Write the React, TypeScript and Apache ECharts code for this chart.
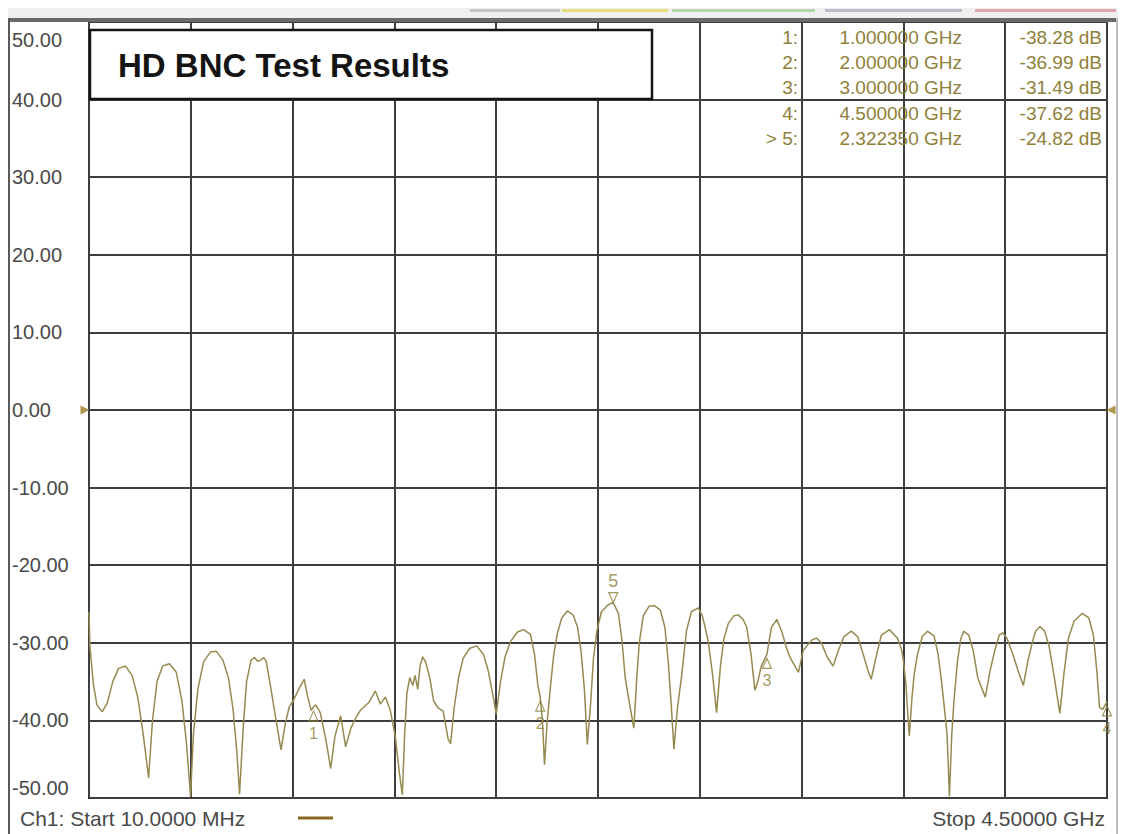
import React, { useEffect, useRef } from "react";
import * as echarts from "echarts";

// ---- data ----
const startFreqGHz = 0.01;
const stopFreqGHz = 4.5;
const yMin = -50;
const yMax = 50;
const yStep = 10;
const divisions = 10;

const freqGHz = [
  0.010, 0.014, 0.030, 0.045, 0.068, 0.090, 0.115, 0.140, 0.171, 0.200,
  0.225, 0.250, 0.273, 0.290, 0.310, 0.335, 0.365, 0.395, 0.420, 0.440,
  0.458, 0.470, 0.490, 0.515, 0.545, 0.572, 0.600, 0.625, 0.645, 0.662,
  0.674, 0.690, 0.705, 0.725, 0.740, 0.755, 0.769, 0.780, 0.791, 0.810,
  0.835, 0.857, 0.875, 0.893, 0.910, 0.935, 0.959, 0.975, 0.990, 1.000,
  1.010, 1.030, 1.055, 1.076, 1.095, 1.120, 1.142, 1.165, 1.190, 1.207,
  1.244, 1.273, 1.295, 1.317, 1.339, 1.361, 1.380, 1.392, 1.402, 1.412,
  1.425, 1.438, 1.448, 1.460, 1.470, 1.482, 1.495, 1.513, 1.530, 1.550,
  1.572, 1.594, 1.605, 1.620, 1.640, 1.660, 1.690, 1.720, 1.750, 1.770,
  1.790, 1.806, 1.825, 1.845, 1.870, 1.900, 1.927, 1.957, 1.975, 1.990,
  2.000, 2.010, 2.019, 2.030, 2.046, 2.060, 2.075, 2.095, 2.120, 2.145,
  2.165, 2.180, 2.195, 2.208, 2.222, 2.235, 2.250, 2.270, 2.300, 2.322,
  2.345, 2.360, 2.375, 2.395, 2.413, 2.425, 2.437, 2.455, 2.480, 2.504,
  2.530, 2.550, 2.565, 2.578, 2.590, 2.605, 2.623, 2.645, 2.667, 2.697,
  2.715, 2.726, 2.741, 2.760, 2.778, 2.795, 2.810, 2.830, 2.855, 2.874,
  2.895, 2.911, 2.930, 2.947, 2.960, 2.975, 3.000, 3.020, 3.044, 3.065,
  3.085, 3.102, 3.120, 3.139, 3.160, 3.182, 3.200, 3.219, 3.240, 3.265,
  3.292, 3.315, 3.340, 3.372, 3.400, 3.425, 3.445, 3.460, 3.480, 3.505,
  3.540, 3.576, 3.595, 3.603, 3.613, 3.622, 3.628, 3.640, 3.650, 3.664,
  3.685, 3.708, 3.737, 3.755, 3.770, 3.785, 3.795, 3.805, 3.815, 3.825,
  3.840, 3.855, 3.868, 3.890, 3.910, 3.930, 3.963, 3.985, 4.005, 4.025,
  4.041, 4.060, 4.085, 4.110, 4.131, 4.150, 4.170, 4.185, 4.204, 4.225,
  4.245, 4.265, 4.292, 4.310, 4.330, 4.355, 4.391, 4.420, 4.440, 4.455,
  4.467, 4.480, 4.500,
];

const traceDb = [
  -26.0, -30.5, -35.5, -38.0, -38.9, -37.8, -35.0, -33.3, -33.0, -34.2,
  -37.0, -42.0, -47.4, -40.0, -35.0, -33.0, -32.7, -33.8, -37.5, -43.0,
  -49.8, -42.0, -36.0, -32.5, -31.2, -31.1, -32.2, -34.5, -38.5, -44.0,
  -49.5, -41.0, -35.0, -32.2, -31.9, -32.4, -32.2, -31.9, -32.3, -35.5,
  -40.0, -43.8, -40.5, -38.3, -37.5, -36.0, -34.7, -37.0, -38.7, -38.28,
  -38.0, -39.0, -42.5, -46.2, -42.0, -39.4, -43.4, -41.0, -39.5, -38.7,
  -37.7, -36.2, -37.9, -37.0, -38.7, -42.1, -47.0, -49.6, -42.0, -36.5,
  -34.5, -35.5, -34.2, -36.0, -33.0, -31.8, -32.5, -34.5, -37.5, -38.4,
  -38.8, -42.4, -43.0, -38.5, -34.5, -32.0, -30.7, -30.4, -31.5, -33.5,
  -36.5, -39.2, -35.0, -31.8, -29.8, -28.6, -28.3, -28.9, -31.5, -35.5,
  -36.99, -40.0, -45.7, -40.5, -35.4, -31.5, -28.9, -26.8, -25.9, -26.4,
  -28.0, -31.0, -36.0, -43.1, -38.0, -32.0, -28.5, -26.0, -25.1, -24.82,
  -26.2, -29.5, -34.5, -38.0, -41.0, -35.0, -30.0, -26.5, -25.3, -25.2,
  -25.8, -28.0, -32.5, -38.0, -43.7, -38.5, -34.5, -28.5, -26.0, -25.5,
  -26.5, -27.8, -29.8, -34.0, -39.0, -33.0, -29.5, -27.5, -26.5, -26.4,
  -27.0, -28.0, -31.5, -36.1, -35.0, -33.0, -31.49, -28.0, -27.0, -28.5,
  -30.5, -31.9, -32.8, -33.8, -31.0, -30.2, -29.6, -29.4, -30.0, -31.8,
  -33.0, -31.0, -29.2, -28.5, -29.2, -31.5, -33.5, -34.7, -32.0, -29.0,
  -28.3, -29.4, -31.0, -32.5, -35.3, -39.5, -42.0, -37.0, -34.0, -31.5,
  -29.2, -28.5, -29.1, -31.5, -34.9, -39.0, -42.0, -49.8, -42.0, -37.5,
  -32.5, -29.5, -28.5, -29.0, -31.0, -34.5, -37.0, -33.5, -31.0, -29.0,
  -28.7, -29.5, -31.5, -33.8, -35.5, -32.5, -30.0, -28.5, -27.9, -28.5,
  -30.5, -34.0, -39.1, -34.0, -29.4, -27.2, -26.2, -26.8, -29.0, -33.6,
  -38.3, -38.6, -37.62,
];

const markerIds = ["1", "2", "3", "4", "5"];
const markerFreqGHz = [1.0, 2.0, 3.0, 4.5, 2.32235];
const markerDb = [-38.28, -36.99, -31.49, -37.62, -24.82];
const activeMarker = "5";

const titleText = "HD BNC Test Results";
const startLabel = "Ch1: Start 10.0000 MHz";
const stopLabel = "Stop 4.50000 GHz";

const chromeSegments = [
  { x0: 470, x1: 560, color: "#c4c4c4" },
  { x0: 562, x1: 668, color: "#e6de7a" },
  { x0: 672, x1: 815, color: "#b4d8ac" },
  { x0: 825, x1: 962, color: "#b8bcc8" },
  { x0: 975, x1: 1116, color: "#e2a8b0" },
];

export default function App() {
  const ref = useRef<HTMLDivElement>(null);

  useEffect(() => {
    const el = ref.current;
    if (!el) return;
    const chart = echarts.init(el, null, { renderer: "svg" });
    const olive = "#968a50";
    const textOlive = "#8e8038";
    const font = "'Liberation Sans', Arial, sans-serif";
    const gridColor = "#3e3e3e";

    const trace = freqGHz.map((f, i) => [f, traceDb[i]]);

    const rowY = [37, 62, 87, 113, 138];
    const tableTexts: any[] = [];
    const rowText = (x: number, y: number, text: string) => ({
      type: "text",
      z: 100,
      x,
      y,
      style: {
        text,
        fill: textOlive,
        font: `19px ${font}`,
        textAlign: "right",
        textVerticalAlign: "middle",
        align: "right",
        verticalAlign: "middle",
      },
    });
    markerIds.forEach((id, i) => {
      tableTexts.push(rowText(798, rowY[i], (id === activeMarker ? "> " : "") + id + ":"));
      tableTexts.push(rowText(962, rowY[i], markerFreqGHz[i].toFixed(6) + " GHz"));
      tableTexts.push(rowText(1102, rowY[i], markerDb[i].toFixed(2) + " dB"));
    });

    const chrome: any[] = [
      { type: "rect", z: 90, shape: { x: 8, y: 8, width: 1110, height: 11 }, style: { fill: "#efefef" } },
      ...chromeSegments.map((s) => ({
        type: "rect",
        z: 91,
        shape: { x: s.x0, y: 9, width: s.x1 - s.x0, height: 3 },
        style: { fill: s.color },
      })),
      { type: "rect", z: 91, shape: { x: 8, y: 18, width: 1110, height: 4 }, style: { fill: "#6a6a6a" } },
      { type: "line", z: 91, shape: { x1: 9, y1: 18, x2: 9, y2: 834 }, style: { stroke: "#5a5a5a", lineWidth: 2 } },
      { type: "line", z: 91, shape: { x1: 1117, y1: 18, x2: 1117, y2: 834 }, style: { stroke: "#bdbdbd", lineWidth: 2 } },
    ];

    const option: any = {
      animation: false,
      backgroundColor: "#ffffff",
      grid: {
        left: 89,
        right: 16,
        top: 22,
        bottom: 36,
        show: true,
        borderColor: "#1e1e1e",
        borderWidth: 2,
        backgroundColor: "#ffffff",
      },
      xAxis: [
        {
          type: "value",
          min: startFreqGHz,
          max: stopFreqGHz,
          axisLine: { show: false },
          axisTick: { show: false },
          axisLabel: { show: false },
          splitLine: { show: false },
        },
        {
          type: "value",
          min: 0,
          max: divisions,
          interval: 1,
          axisLine: { show: false },
          axisTick: { show: false },
          axisLabel: { show: false },
          splitLine: { show: true, lineStyle: { color: gridColor, width: 2 } },
        },
      ],
      yAxis: {
        type: "value",
        min: yMin,
        max: yMax,
        interval: yStep,
        axisLine: { show: false },
        axisTick: { show: false },
        splitLine: { show: true, lineStyle: { color: gridColor, width: 2 } },
        axisLabel: {
          show: true,
          align: "left",
          margin: 77,
          color: "#4a4a4a",
          fontSize: 20,
          fontFamily: font,
          formatter: (v: number) => (v === yMax ? `{mx|${v.toFixed(2)}}` : v.toFixed(2)),
          rich: { mx: { padding: [8, 0, 0, 0], fontSize: 20, fontFamily: font, color: "#4a4a4a" } },
          verticalAlignMinLabel: "bottom",
          verticalAlignMaxLabel: "top",
        },
      },
      series: [
        {
          type: "line",
          name: "Ch1",
          xAxisIndex: 0,
          data: trace,
          showSymbol: false,
          symbol: "none",
          lineStyle: { color: olive, width: 1.5 },
          z: 3,
        },
        {
          type: "scatter",
          xAxisIndex: 0,
          clip: false,
          symbol: "triangle",
          symbolSize: [9, 10],
          itemStyle: { color: "rgba(255,255,255,0)", borderColor: textOlive, borderWidth: 1.2 },
          label: { show: true, formatter: "{b}", color: textOlive, fontSize: 16, fontFamily: font, distance: 4 },
          data: markerIds.map((id, i) => ({
            name: id,
            value: [markerFreqGHz[i], markerDb[i]],
            symbolRotate: id === activeMarker ? 180 : 0,
            symbolOffset: id === activeMarker ? [0, -5] : [0, 9],
            label:
              id === activeMarker
                ? { position: "top", fontSize: 18, distance: 2 }
                : { position: "bottom" },
          })),
          z: 5,
        },
        {
          type: "scatter",
          xAxisIndex: 0,
          clip: false,
          symbol: "triangle",
          symbolSize: [9, 9],
          itemStyle: { color: "#9a7a1c" },
          data: [
            { value: [startFreqGHz, 0], symbolRotate: -90, symbolOffset: [-4, 0] },
            { value: [stopFreqGHz, 0], symbolRotate: 90, symbolOffset: [4, 0] },
          ],
          z: 6,
        },
      ],
      graphic: [
        ...chrome,
        {
          type: "rect",
          z: 100,
          shape: { x: 90, y: 30, width: 562, height: 69 },
          style: { fill: "#ffffff", stroke: "#141414", lineWidth: 2.5 },
        },
        {
          type: "text",
          z: 101,
          x: 118,
          y: 65,
          style: {
            text: titleText,
            fill: "#141414",
            font: `bold 33px ${font}`,
            textVerticalAlign: "middle",
            verticalAlign: "middle",
          },
        },
        ...tableTexts,
        {
          type: "text",
          z: 100,
          x: 20,
          y: 818,
          style: {
            text: startLabel,
            fill: "#4a4a4a",
            font: `21px ${font}`,
            textVerticalAlign: "middle",
            verticalAlign: "middle",
          },
        },
        {
          type: "line",
          z: 100,
          shape: { x1: 298, y1: 818, x2: 333, y2: 818 },
          style: { stroke: "#8a6a22", lineWidth: 3 },
        },
        {
          type: "text",
          z: 100,
          x: 1105,
          y: 818,
          style: {
            text: stopLabel,
            fill: "#4a4a4a",
            font: `21px ${font}`,
            textAlign: "right",
            align: "right",
            textVerticalAlign: "middle",
            verticalAlign: "middle",
          },
        },
      ],
    };

    chart.setOption(option);
    return () => {
      chart.dispose();
    };
  }, []);

  return (
    <div
      ref={ref}
      style={{ position: "absolute", left: 0, top: 0, width: 1123, height: 834, background: "#ffffff" }}
    />
  );
}
